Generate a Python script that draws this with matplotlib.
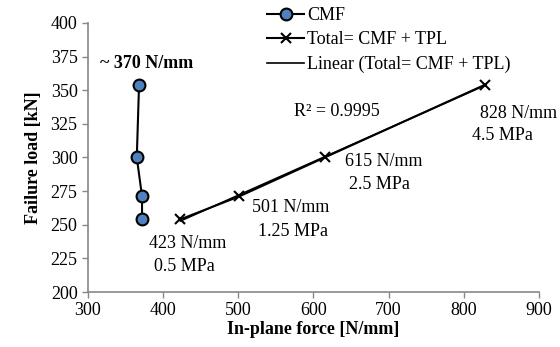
import numpy as np
import matplotlib.pyplot as plt
import matplotlib as mpl

mpl.rcParams['font.family'] = 'Liberation Serif'

# data
cmf_force = [368, 365, 372, 372]
cmf_load = [354, 300, 271, 254]
total_force = [423, 501, 615, 828]
total_load = [254, 271, 300, 354]
force_labels = ['423 N/mm', '501 N/mm', '615 N/mm', '828 N/mm']
pressure_labels = ['0.5 MPa', '1.25 MPa', '2.5 MPa', '4.5 MPa']
r2_text = 'R² = 0.9995'

fs = 13
fig = plt.figure(figsize=(5.6, 3.47), dpi=100)
ax = fig.add_axes([0.157, 0.1585, 0.8055, 0.7755])

ax.plot(cmf_force, cmf_load, color='black', lw=1.5, marker='o', ms=8.5,
        mfc='#4F81BD', mec='black', mew=1.5, label='CMF', zorder=3)
ax.plot(total_force, total_load, color='black', lw=1.5, marker='x', ms=7,
        mew=1.5, label='Total= CMF + TPL', zorder=3)
k, b = np.polyfit(total_force, total_load, 1)
xs = np.array([min(total_force), max(total_force)])
ax.plot(xs, k * xs + b, color='black', lw=1.2,
        label='Linear (Total= CMF + TPL)', zorder=2)

ax.set_xlim(300, 900)
ax.set_ylim(200, 400)
ax.set_xticks(range(300, 901, 100))
ax.set_yticks(range(200, 401, 25))
ax.tick_params(labelsize=fs, color='#888888', length=4, width=1, direction='out')
for s in ['top', 'right']:
    ax.spines[s].set_visible(False)
for s in ['left', 'bottom']:
    ax.spines[s].set_color('#888888')
    ax.spines[s].set_linewidth(1.2)
ax.set_xlabel('In-plane force [N/mm]', fontsize=fs, fontweight='bold', labelpad=1)
ax.set_ylabel('Failure load [kN]', fontsize=fs, fontweight='bold', labelpad=6)

# annotations
ax.text(378, 370, '~ 370 N/mm', fontsize=fs, fontweight='bold', ha='center', va='center')
ax.text(631, 334, r2_text, fontsize=fs, ha='center', va='center')
lbl_pos = [(433, 236, 428, 219), (570, 262.5, 573, 245),
           (694, 297, 688, 280), (873, 333, 852, 316)]
for (fx, fy, px, py), f, p in zip(lbl_pos, force_labels, pressure_labels):
    ax.text(fx, fy, f, fontsize=fs, ha='center', va='center', clip_on=False)
    ax.text(px, py, p, fontsize=fs, ha='center', va='center', clip_on=False)

leg = ax.legend(loc='upper left', bbox_to_anchor=(0.382, 1.085), frameon=False,
                fontsize=fs, handlelength=2.0, handletextpad=0.2,
                labelspacing=0.4, borderaxespad=0)

fig.savefig('out.png', dpi=100)
